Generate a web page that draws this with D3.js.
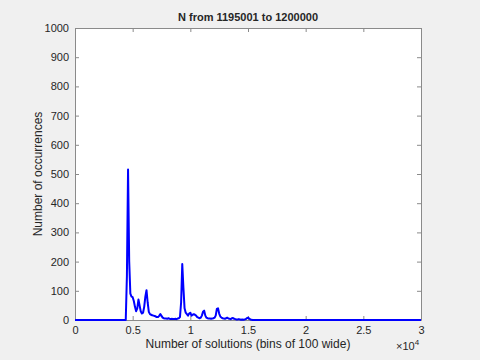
<!DOCTYPE html>
<html><head><meta charset="utf-8">
<script src="https://cdn.jsdelivr.net/npm/d3@7"></script>
<style>
html,body{margin:0;padding:0;background:#f0f0f0;}
svg{display:block;}
text{font-family:"Liberation Sans",Arial,sans-serif;fill:#262626;}
</style></head>
<body>
<svg id="chart" width="480" height="360"></svg>
<script>
const title = "N from 1195001 to 1200000";
const xLabel = "Number of solutions (bins of 100 wide)";
const yLabel = "Number of occurrences";
const binWidth = 100;
const xTicks = [0, 5000, 10000, 15000, 20000, 25000, 30000];
const xTickLabels = ["0", "0.5", "1", "1.5", "2", "2.5", "3"];
const yTicks = [0, 100, 200, 300, 400, 500, 600, 700, 800, 900, 1000];
const yTickLabels = ["0", "100", "200", "300", "400", "500", "600", "700", "800", "900", "1000"];
// counts per bin, bin i at x = i*100 (0 .. 30000)
const counts = [
  0,0,0,0,0,0,0,0,0,0, 0,0,0,0,0,0,0,0,0,0,
  0,0,0,0,0,0,0,0,0,0, 0,0,0,0,0,0,0,0,0,0,
  0,0,0,0,
  0,150,515,200,90,80,78,65,45,30,
  40,70,50,30,22,25,45,80,102,60,
  28,20,18,16,15,14,12,10,10,14,
  20,14,8,6,5,5,4,6,4,3,
  4,3,3,4,3,5,6,10,60,192,
  110,40,25,20,15,22,25,15,18,20,
  18,15,10,8,6,8,15,28,32,15,
  8,6,5,5,4,5,6,8,15,38,
  40,22,12,8,6,5,4,6,8,5,
  4,3,6,7,4,3,2,2,3,2,
  1,2,1,2,3,6,8,5,2,1,
  0,
  0,0,0,0,0,0,0,0,0,0, 0,0,0,0,0,0,0,0,0,0,
  0,0,0,0,0,0,0,0,0,0, 0,0,0,0,0,0,0,0,0,0,
  0,0,0,0,0,0,0,0,0,0, 0,0,0,0,0,0,0,0,0,0,
  0,0,0,0,0,0,0,0,0,0, 0,0,0,0,0,0,0,0,0,0,
  0,0,0,0,0,0,0,0,0,0, 0,0,0,0,0,0,0,0,0,0,
  0,0,0,0,0,0,0,0,0,0, 0,0,0,0,0,0,0,0,0,0,
  0,0,0,0,0,0,0,0,0,0, 0,0,0,0,0,0,0,0,0,0,
  0,0,0,0,0,0
];

const svg = d3.select("#chart");
const L = 75, R = 421, T = 28, B = 320;
const x = d3.scaleLinear().domain([0, 30000]).range([L, R]);
const y = d3.scaleLinear().domain([0, 1000]).range([B, T]);

svg.append("rect").attr("x", L).attr("y", T).attr("width", R - L).attr("height", B - T).attr("fill", "#fff");

const data = counts.map((c, i) => [i * binWidth, c]).filter(d => d[0] <= 30000);

const axisColor = "#8a8a8a";
const xb = svg.append("g").attr("transform", `translate(0,${B})`)
  .call(d3.axisBottom(x).tickValues(xTicks).tickFormat((d, i) => xTickLabels[i]).tickSizeInner(-4).tickSizeOuter(0).tickPadding(6));
const xt = svg.append("g").attr("transform", `translate(0,${T})`)
  .call(d3.axisTop(x).tickValues(xTicks).tickFormat("").tickSizeInner(-4).tickSizeOuter(0));
const yl = svg.append("g").attr("transform", `translate(${L},0)`)
  .call(d3.axisLeft(y).tickValues(yTicks).tickFormat((d, i) => yTickLabels[i]).tickSizeInner(-4).tickSizeOuter(0).tickPadding(6));
const yr = svg.append("g").attr("transform", `translate(${R},0)`)
  .call(d3.axisRight(y).tickValues(yTicks).tickFormat("").tickSizeInner(-4).tickSizeOuter(0));
[xb, xt, yl, yr].forEach(g => {
  g.selectAll("path, line").attr("stroke", axisColor);
  g.selectAll("text").attr("fill", "#262626").style("font-size", "11px").style("font-family", "Liberation Sans, Arial, sans-serif");
});

svg.append("path").datum(data)
  .attr("fill", "none").attr("stroke", "#0000ff").attr("stroke-width", 2).attr("stroke-linejoin", "round")
  .attr("d", d3.line().x(d => x(d[0])).y(d => y(d[1])));

svg.append("text").attr("x", 248).attr("y", 21).attr("text-anchor", "middle")
  .style("font-size", "11px").style("font-weight", "bold").text(title);
svg.append("text").attr("x", 248).attr("y", 348).attr("text-anchor", "middle")
  .style("font-size", "12px").text(xLabel);
svg.append("text").attr("transform", `translate(42,${(T + B) / 2}) rotate(-90)`).attr("text-anchor", "middle")
  .style("font-size", "12px").text(yLabel);
const mult = svg.append("text").attr("x", 396).attr("y", 350).style("font-size", "11px");
mult.append("tspan").text("×10");
mult.append("tspan").attr("dy", -5).style("font-size", "8px").text("4");
</script>
</body></html>
